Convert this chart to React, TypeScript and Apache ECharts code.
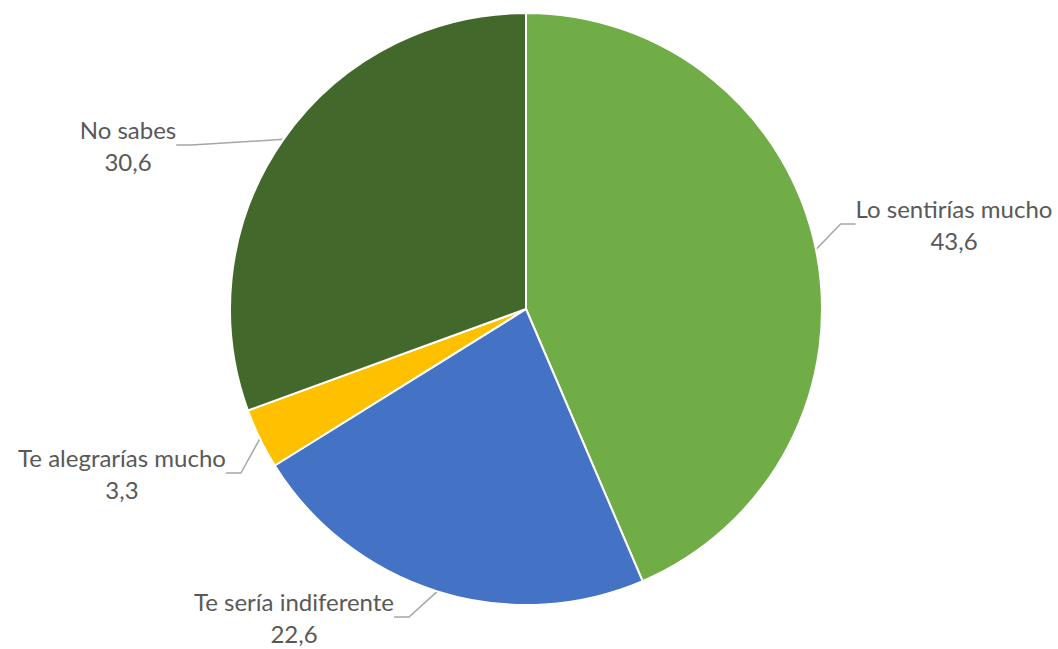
import React, { useEffect, useRef } from "react";
import * as echarts from "echarts";

const categories = ["Lo sentirías mucho", "Te sería indiferente", "Te alegrarías mucho", "No sabes"];
const values = [43.6, 22.6, 3.3, 30.6];
const colors = ["#70AD47", "#4472C4", "#FFC000", "#43682B"];
const labelSpots: [number, number][] = [
  [954, 224],
  [294, 617],
  [122, 473],
  [128, 145],
];

export default function App() {
  const ref = useRef<HTMLDivElement>(null);
  useEffect(() => {
    document.body.style.margin = "0";
    const chart = echarts.init(ref.current!, null, { renderer: "svg" });
    chart.setOption({
      animation: false,
      backgroundColor: "#ffffff",
      series: [
        {
          type: "pie",
          center: [526, 309],
          radius: 296,
          startAngle: 90,
          clockwise: true,
          avoidLabelOverlap: false,
          itemStyle: { borderColor: "#ffffff", borderWidth: 2 },
          label: {
            show: true,
            position: "outside",
            color: "#595959",
            fontSize: 24,
            lineHeight: 32,
            fontFamily: "Lato, 'Open Sans', sans-serif",
            align: "center",
            formatter: (p: any) => `${p.name}\n${String(p.value).replace(".", ",")}`,
          },
          labelLine: {
            show: true,
            length: 15,
            length2: 15,
            lineStyle: { color: "#A6A6A6", width: 1.5 },
          },
          labelLayout: (params: any) => {
            const spot = labelSpots[params.dataIndex];
            return { x: spot[0], y: spot[1], align: "center", verticalAlign: "middle" };
          },
          data: categories.map((name, i) => ({
            name,
            value: values[i],
            itemStyle: { color: colors[i] },
          })),
        },
      ],
    });
    return () => chart.dispose();
  }, []);
  return <div ref={ref} style={{ width: 1058, height: 649, position: "absolute", left: 0, top: 0 }} />;
}
